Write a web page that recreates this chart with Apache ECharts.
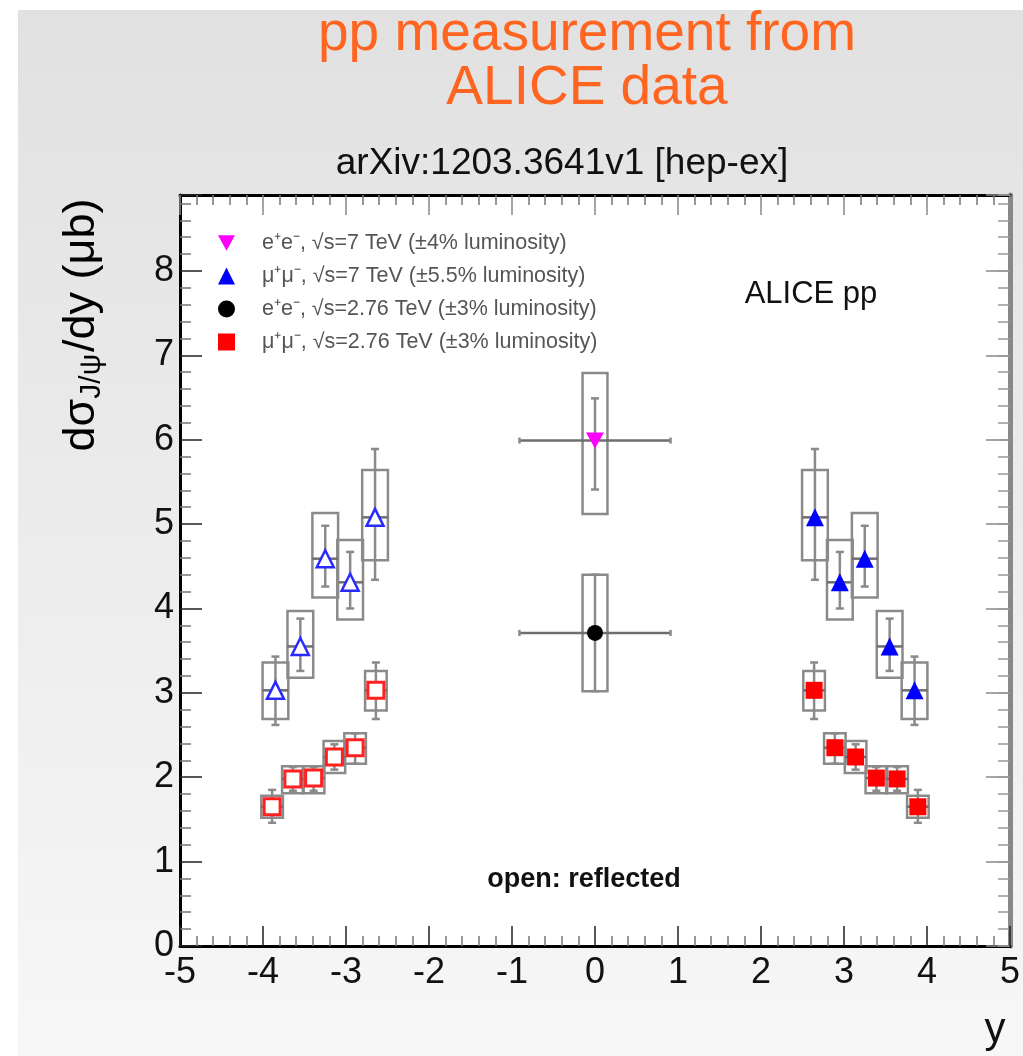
<!DOCTYPE html>
<html>
<head>
<meta charset="utf-8">
<script src="https://cdn.jsdelivr.net/npm/echarts@6/dist/echarts.min.js"></script>
<style>html,body{margin:0;padding:0;background:#fff;}#c{width:1023px;height:1056px;}</style>
</head>
<body>
<div id="c"></div>
<script>
// ---------- DATA ----------
// mu+mu-, sqrt(s)=7 TeV (forward rapidity, filled)
const mu7Y      = [2.65, 2.95, 3.25, 3.55, 3.85];
const mu7Val    = [5.08, 4.31, 4.59, 3.55, 3.03];
const mu7StatLo = [4.34, 4.00, 4.26, 3.26, 2.62];
const mu7StatHi = [5.89, 4.67, 4.98, 3.88, 3.43];
const mu7SysLo  = [4.57, 3.87, 4.13, 3.18, 2.69];
const mu7SysHi  = [5.64, 4.81, 5.13, 3.97, 3.36];
// same points reflected to negative rapidity (open markers)
const mu7YRefl  = [-2.65, -2.95, -3.25, -3.55, -3.85];

// mu+mu-, sqrt(s)=2.76 TeV (forward rapidity, filled)
const mu276Y      = [2.64, 2.89, 3.14, 3.39, 3.64, 3.89];
const mu276Val    = [3.03, 2.35, 2.24, 1.99, 1.98, 1.65];
const mu276StatLo = [2.69, 2.16, 2.09, 1.84, 1.84, 1.46];
const mu276StatHi = [3.36, 2.52, 2.39, 2.12, 2.12, 1.85];
const mu276SysLo  = [2.79, 2.16, 2.05, 1.81, 1.81, 1.52];
const mu276SysHi  = [3.26, 2.52, 2.43, 2.13, 2.13, 1.78];
const mu276YRefl  = [-2.64, -2.89, -3.14, -3.39, -3.64, -3.89];

// e+e-, mid rapidity
const ee7Y = [0],   ee7Val = [5.99],   ee7StatLo = [5.41],  ee7StatHi = [6.49],  ee7SysLo = [5.12],  ee7SysHi = [6.79];
const ee276Y = [0], ee276Val = [3.71], ee276StatLo = [3.02], ee276StatHi = [4.40], ee276SysLo = [3.02], ee276SysHi = [4.40];
const eeYErr = 0.91;          // rapidity half-range of the e+e- bin
const mu7HalfBin = 0.155, mu276HalfBin = 0.13, eeBoxHalf = 0.15;

const titleText = 'pp measurement from\nALICE data';
const subTitle = 'arXiv:1203.3641v1 [hep-ex]';
const legendNames = [
  'e\u207Ae\u207B, \u221As=7 TeV (\u00B14% luminosity)',
  '\u03BC\u207A\u03BC\u207B, \u221As=7 TeV (\u00B15.5% luminosity)',
  'e\u207Ae\u207B, \u221As=2.76 TeV (\u00B13% luminosity)',
  '\u03BC\u207A\u03BC\u207B, \u221As=2.76 TeV (\u00B13% luminosity)'
];

// ---------- helpers ----------
function rows(xs, v, sLo, sHi, bLo, bHi) {
  return xs.map((x, i) => [x, v[i], sLo[i], sHi[i], bLo[i], bHi[i]]);
}
const GRAY = '#8a8a8a';
function errRenderer(boxHalf, xErr) {
  return function (params, api) {
    const x = api.value(0), y = api.value(1);
    const sLo = api.value(2), sHi = api.value(3), bLo = api.value(4), bHi = api.value(5);
    const tl = api.coord([x - boxHalf, bHi]);
    const br = api.coord([x + boxHalf, bLo]);
    const t = api.coord([x, sHi]);
    const b = api.coord([x, sLo]);
    const xl = api.coord([x - xErr, y]);
    const xr = api.coord([x + xErr, y]);
    const cap = 4;
    const ls = { stroke: GRAY, lineWidth: 2.5 };
    const children = [
      { type: 'rect', shape: { x: tl[0], y: tl[1], width: br[0] - tl[0], height: br[1] - tl[1] },
        style: { fill: 'none', stroke: GRAY, lineWidth: 2.5 } },
      { type: 'line', shape: { x1: t[0], y1: t[1], x2: b[0], y2: b[1] }, style: ls },
      { type: 'line', shape: { x1: t[0] - cap, y1: t[1], x2: t[0] + cap, y2: t[1] }, style: ls },
      { type: 'line', shape: { x1: b[0] - cap, y1: b[1], x2: b[0] + cap, y2: b[1] }, style: ls },
      { type: 'line', shape: { x1: xl[0], y1: xl[1], x2: xr[0], y2: xr[1] }, style: { stroke: '#6e6e6e', lineWidth: 2.5 } }
    ];
    if (xErr > boxHalf) {
      children.push({ type: 'line', shape: { x1: xl[0], y1: xl[1] - 3, x2: xl[0], y2: xl[1] + 3 }, style: ls });
      children.push({ type: 'line', shape: { x1: xr[0], y1: xr[1] - 3, x2: xr[0], y2: xr[1] + 3 }, style: ls });
    }
    return { type: 'group', children: children };
  };
}
function errSeries(name, data, boxHalf, xErr) {
  return { type: 'custom', name: name, renderItem: errRenderer(boxHalf, xErr), data: data,
           encode: { x: 0, y: 1 }, clip: false, z: 2, silent: true };
}
function pts(xs, v) { return xs.map((x, i) => [x, v[i]]); }

const invTri = 'path://M0,0 L10,0 L5,9 Z';
const FONT = 'Liberation Sans, Arial, sans-serif';

const chart = echarts.init(document.getElementById('c'), null, { renderer: 'canvas' });
const axisCommon = { type: 'value', min: -5, max: 5, interval: 1, splitLine: { show: false } };
chart.setOption({
  backgroundColor: '#ffffff',
  animation: false,
  title: [
    { text: titleText, left: 582, top: 3, textAlign: 'center',
      textStyle: { color: '#ff6520', fontSize: 55, fontWeight: 'normal', fontFamily: FONT, lineHeight: 54 } },
    { text: subTitle, left: 557, top: 140, textAlign: 'center',
      textStyle: { color: '#111', fontSize: 37, fontWeight: 'normal', fontFamily: FONT } }
  ],
  grid: { left: 180, right: 9, top: 195, bottom: 110, show: true, backgroundColor: '#ffffff', borderWidth: 0 },
  xAxis: [
    Object.assign({}, axisCommon, {
      position: 'bottom',
      axisLine: { show: true, onZero: false, lineStyle: { color: '#000', width: 3 } },
      axisTick: { show: true, inside: true, length: 20, lineStyle: { color: '#222', width: 1.5 } },
      minorTick: { show: true, splitNumber: 5, length: 10, lineStyle: { color: '#777', width: 1.5 } },
      axisLabel: { fontSize: 36, color: '#111', margin: 9, fontFamily: FONT }
    }),
    Object.assign({}, axisCommon, {
      position: 'top',
      axisLine: { show: true, onZero: false, lineStyle: { color: '#000', width: 3 } },
      axisTick: { show: true, inside: true, length: 20, lineStyle: { color: '#888', width: 1.5 } },
      minorTick: { show: true, splitNumber: 5, length: 10, lineStyle: { color: '#777', width: 1.5 } },
      axisLabel: { show: false }
    })
  ],
  yAxis: [
    { type: 'value', min: 0, max: 8.9, interval: 1, position: 'left', splitLine: { show: false },
      axisLine: { show: true, onZero: false, lineStyle: { color: '#000', width: 3 } },
      axisTick: { show: true, inside: true, length: 22, lineStyle: { color: '#222', width: 1.5 } },
      minorTick: { show: true, splitNumber: 5, length: 11, lineStyle: { color: '#777', width: 1.5 } },
      axisLabel: { fontSize: 36, color: '#111', margin: 6, fontFamily: FONT, showMaxLabel: false } },
    // right frame: major ticks
    { type: 'value', min: 0, max: 8.9, interval: 1, position: 'right', splitLine: { show: false },
      axisLine: { show: true, onZero: false, lineStyle: { color: '#888', width: 5 } },
      axisTick: { show: true, inside: true, length: 24, lineStyle: { color: '#888', width: 1.5 } },
      axisLabel: { show: false } },
    // right frame: minor ticks
    { type: 'value', min: 0, max: 8.9, interval: 0.2, position: 'right', splitLine: { show: false },
      axisLine: { show: false, onZero: false },
      axisTick: { show: true, inside: true, length: 12, lineStyle: { color: '#999', width: 1.5 } },
      axisLabel: { show: false } }
  ],
  legend: {
    data: legendNames, orient: 'vertical', left: 213, top: 227, itemGap: 11,
    itemWidth: 17, itemHeight: 17, selectedMode: false,
    textStyle: { fontSize: 21.5, color: '#555', fontFamily: FONT, padding: [0, 0, 0, 22], lineHeight: 22 }
  },
  graphic: [
    { type: 'rect', z: -10, shape: { x: 18, y: 10, width: 1005, height: 1046 },
      style: { fill: { type: 'linear', x: 0, y: 0, x2: 0, y2: 1,
        colorStops: [{ offset: 0, color: '#e1e1e1' }, { offset: 1, color: '#f7f7f7' }] } } },
    { type: 'text', z: 10, x: 82, y: 325, rotation: Math.PI / 2,
      style: { text: '{m|d\u03C3}{s|J/\u03C8}{m|/dy (\u03BCb)}', align: 'center', verticalAlign: 'middle',
        rich: { m: { fontSize: 45, fontFamily: FONT, fill: '#000' },
                s: { fontSize: 30, fontFamily: FONT, fill: '#000', padding: [20, 2, 0, 0] } } } },
    { type: 'text', z: 10, x: 995, y: 1030,
      style: { text: 'y', fontSize: 42, fontFamily: FONT, fill: '#111', align: 'center', verticalAlign: 'middle' } },
    { type: 'text', z: 10, x: 811, y: 294,
      style: { text: 'ALICE pp', fontSize: 31, fontFamily: FONT, fill: '#111', align: 'center', verticalAlign: 'middle' } },
    { type: 'text', z: 10, x: 584, y: 880,
      style: { text: 'open: reflected', fontSize: 27, fontWeight: 'bold', fontFamily: FONT, fill: '#111', align: 'center', verticalAlign: 'middle' } }
  ],
  series: [
    errSeries('err mu7', rows(mu7Y, mu7Val, mu7StatLo, mu7StatHi, mu7SysLo, mu7SysHi), mu7HalfBin, mu7HalfBin),
    errSeries('err mu7 refl', rows(mu7YRefl, mu7Val, mu7StatLo, mu7StatHi, mu7SysLo, mu7SysHi), mu7HalfBin, mu7HalfBin),
    errSeries('err mu276', rows(mu276Y, mu276Val, mu276StatLo, mu276StatHi, mu276SysLo, mu276SysHi), mu276HalfBin, mu276HalfBin),
    errSeries('err mu276 refl', rows(mu276YRefl, mu276Val, mu276StatLo, mu276StatHi, mu276SysLo, mu276SysHi), mu276HalfBin, mu276HalfBin),
    errSeries('err ee7', rows(ee7Y, ee7Val, ee7StatLo, ee7StatHi, ee7SysLo, ee7SysHi), eeBoxHalf, eeYErr),
    errSeries('err ee276', rows(ee276Y, ee276Val, ee276StatLo, ee276StatHi, ee276SysLo, ee276SysHi), eeBoxHalf, eeYErr),

    { type: 'scatter', name: legendNames[0], data: pts(ee7Y, ee7Val), symbol: invTri, symbolSize: [18, 16],
      itemStyle: { color: '#ff00ff', opacity: 1 }, z: 5 },
    { type: 'scatter', name: legendNames[1], data: pts(mu7Y, mu7Val), symbol: 'triangle', symbolSize: 18,
      itemStyle: { color: '#0000ff', opacity: 1 }, z: 5 },
    { type: 'scatter', name: legendNames[2], data: pts(ee276Y, ee276Val), symbol: 'circle', symbolSize: 16,
      itemStyle: { color: '#000000', opacity: 1 }, z: 5 },
    { type: 'scatter', name: legendNames[3], data: pts(mu276Y, mu276Val), symbol: 'rect', symbolSize: 17,
      itemStyle: { color: '#ff0000', opacity: 1 }, z: 5 },
    { type: 'scatter', name: 'reflected mu7', data: pts(mu7YRefl, mu7Val), symbol: 'triangle', symbolSize: 17,
      itemStyle: { color: '#ffffff', borderColor: '#2a2aff', borderWidth: 2.5, opacity: 1 }, z: 5 },
    { type: 'scatter', name: 'reflected mu276', data: pts(mu276YRefl, mu276Val), symbol: 'rect', symbolSize: 16,
      itemStyle: { color: '#ffffff', borderColor: '#ff2020', borderWidth: 3, opacity: 1 }, z: 5 }
  ]
});
</script>
</body>
</html>
